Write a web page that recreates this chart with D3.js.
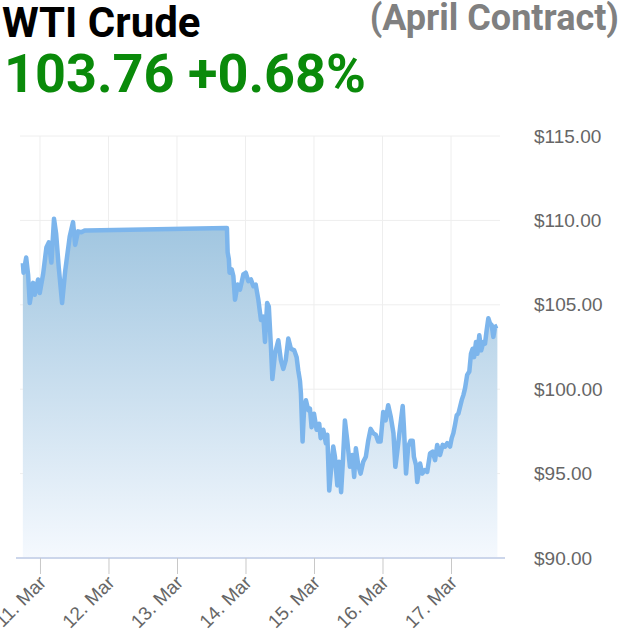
<!DOCTYPE html>
<meta charset="utf-8">
<style>
body { margin: 0; background: #fff; }
svg { font-family: Roboto, "Noto Sans", sans-serif; }
.grid line { stroke: #eeeeee; stroke-width: 1px; }
.axis--y path, .axis--y line { display: none; }
.axis--y text { fill: #666; font-size: 19px; }
.axis--x path { stroke: #ccd6eb; stroke-width: 2px; }
.axis--x line { stroke: #c8c8c8; }
.axis--x text { fill: #666; font-size: 19px; }
.line { fill: none; stroke: #7cb5ec; stroke-width: 4.5px; stroke-linejoin: round; }
</style>
<svg width="623" height="636"></svg>
<script src="https://cdn.jsdelivr.net/npm/d3@7"></script>
<script>

var title = "WTI Crude",
    contract = "(April Contract)",
    lastPrice = "103.76",
    change = "+0.68%";

var yTicks = [90, 95, 100, 105, 110, 115];
var xTicks = ["2022-03-11", "2022-03-12", "2022-03-13", "2022-03-14", "2022-03-15", "2022-03-16", "2022-03-17"];

var times = [
  "2022-03-10 18:00", "2022-03-10 18:15", "2022-03-10 19:10", "2022-03-10 19:50", "2022-03-10 20:25",
  "2022-03-10 21:35", "2022-03-10 22:10", "2022-03-10 23:20", "2022-03-10 23:55", "2022-03-11 01:05",
  "2022-03-11 02:15", "2022-03-11 03:05", "2022-03-11 04:00", "2022-03-11 04:55", "2022-03-11 05:40",
  "2022-03-11 06:35", "2022-03-11 07:45", "2022-03-11 08:50", "2022-03-11 10:25", "2022-03-11 11:35",
  "2022-03-11 12:20", "2022-03-11 13:20", "2022-03-11 14:30", "2022-03-11 15:40", "2022-03-11 16:30",
  "2022-03-13 17:30", "2022-03-13 17:45", "2022-03-13 18:10", "2022-03-13 18:25", "2022-03-13 19:10",
  "2022-03-13 19:45", "2022-03-13 20:20", "2022-03-13 21:15", "2022-03-13 22:05", "2022-03-13 23:15",
  "2022-03-14 00:05", "2022-03-14 01:00", "2022-03-14 01:55", "2022-03-14 02:45", "2022-03-14 03:35",
  "2022-03-14 04:30", "2022-03-14 05:25", "2022-03-14 06:15", "2022-03-14 06:50", "2022-03-14 07:35",
  "2022-03-14 08:10", "2022-03-14 08:55", "2022-03-14 09:25", "2022-03-14 10:20", "2022-03-14 11:30",
  "2022-03-14 12:25", "2022-03-14 13:15", "2022-03-14 14:05", "2022-03-14 15:00", "2022-03-14 15:55",
  "2022-03-14 17:05", "2022-03-14 17:55", "2022-03-14 18:30", "2022-03-14 19:05", "2022-03-14 19:25",
  "2022-03-14 20:00", "2022-03-14 20:30", "2022-03-14 21:10", "2022-03-14 22:00", "2022-03-14 22:35",
  "2022-03-14 23:10", "2022-03-15 00:00", "2022-03-15 00:55", "2022-03-15 01:50", "2022-03-15 02:20",
  "2022-03-15 03:15", "2022-03-15 04:10", "2022-03-15 04:40", "2022-03-15 05:20", "2022-03-15 06:10",
  "2022-03-15 06:45", "2022-03-15 07:20", "2022-03-15 08:10", "2022-03-15 08:45", "2022-03-15 09:30",
  "2022-03-15 10:05", "2022-03-15 10:50", "2022-03-15 11:40", "2022-03-15 12:35", "2022-03-15 13:25",
  "2022-03-15 14:05", "2022-03-15 14:40", "2022-03-15 15:30", "2022-03-15 16:20", "2022-03-15 17:15",
  "2022-03-15 18:10", "2022-03-15 19:00", "2022-03-15 19:50", "2022-03-15 20:45", "2022-03-15 21:40",
  "2022-03-15 22:30", "2022-03-15 23:20", "2022-03-16 00:15", "2022-03-16 01:05", "2022-03-16 02:00",
  "2022-03-16 02:55", "2022-03-16 03:50", "2022-03-16 04:30", "2022-03-16 05:10", "2022-03-16 06:10",
  "2022-03-16 07:05", "2022-03-16 07:30", "2022-03-16 08:15", "2022-03-16 09:00", "2022-03-16 09:50",
  "2022-03-16 10:35", "2022-03-16 11:00", "2022-03-16 11:45", "2022-03-16 12:10", "2022-03-16 13:10",
  "2022-03-16 13:55", "2022-03-16 14:50", "2022-03-16 15:40", "2022-03-16 16:40", "2022-03-16 17:35",
  "2022-03-16 18:25", "2022-03-16 19:10", "2022-03-16 20:10", "2022-03-16 21:05", "2022-03-16 21:55",
  "2022-03-16 22:40", "2022-03-16 23:40", "2022-03-17 00:15", "2022-03-17 00:50", "2022-03-17 01:25",
  "2022-03-17 02:00", "2022-03-17 02:35", "2022-03-17 03:10", "2022-03-17 03:45", "2022-03-17 04:20",
  "2022-03-17 04:55", "2022-03-17 05:40", "2022-03-17 06:25", "2022-03-17 07:00", "2022-03-17 07:35",
  "2022-03-17 08:05", "2022-03-17 08:45", "2022-03-17 09:15", "2022-03-17 09:55", "2022-03-17 10:35",
  "2022-03-17 11:20", "2022-03-17 11:55", "2022-03-17 12:30", "2022-03-17 13:05", "2022-03-17 13:40",
  "2022-03-17 14:15", "2022-03-17 14:50", "2022-03-17 15:25", "2022-03-17 16:15"
];

var prices = [
  107.47, 106.9, 107.8, 106.8, 105.1,
  106.3, 105.6, 106.5, 105.7, 106.8,
  108.4, 108.7, 107.5, 110.1, 109.2,
  107.2, 105.1, 107.0, 109.05, 109.9,
  108.55, 109.35, 109.3, 109.4, 109.4,
  109.55, 108.1, 107.7, 106.9, 107.1,
  106.7, 105.3, 106.2, 105.9, 106.8,
  106.9, 106.4, 106.5, 106.1, 106.2,
  105.3, 104.1, 104.3, 102.8, 105.1,
  104.9, 102.5, 100.6, 102.1, 102.9,
  101.7, 101.2, 101.7, 103.0, 102.4,
  102.3, 101.9, 101.1, 100.5, 99.75,
  96.9, 98.75, 99.35, 98.75, 98.85,
  97.75, 98.55, 97.6, 97.95, 97.1,
  97.6, 96.8, 97.3, 94.0, 95.6,
  96.6, 96.0, 94.3, 95.7, 93.9,
  95.6, 98.15, 96.95, 95.4, 96.1,
  94.8, 96.5, 95.5, 95.0, 95.7,
  96.0, 96.95, 97.65, 97.4, 97.3,
  96.9, 96.9, 98.65, 98.15, 99.05,
  98.35, 97.4, 95.4, 96.3, 97.75,
  99.0, 97.75, 95.0, 96.6, 96.95,
  96.95, 96.0, 95.5, 94.5, 95.6,
  95.0, 95.2, 95.1, 96.2, 96.3,
  95.8, 96.7, 96.1, 96.7, 96.6,
  96.8, 96.6, 97.1, 97.4, 97.9,
  98.45, 98.55, 98.95, 99.35, 99.65,
  100.05, 100.85, 101.05, 102.1, 102.4,
  101.9, 102.8, 102.1, 103.2, 102.3,
  102.8, 102.7, 103.5, 104.2, 103.9,
  103.8, 103.1, 103.7, 103.76
];

var parseTime = d3.timeParse("%Y-%m-%d %H:%M"),
    parseDay = d3.timeParse("%Y-%m-%d");

var data = times.map(function(t, i) { return {time: parseTime(t), price: prices[i]}; });

var svg = d3.select("svg"),
    margin = {top: 136, left: 20, right: 123, bottom: 78},
    width = +svg.attr("width") - margin.left - margin.right,
    height = +svg.attr("height") - margin.top - margin.bottom;

var x = d3.scaleTime()
    .domain([parseTime("2022-03-10 17:00"), parseTime("2022-03-17 17:10")])
    .range([0, width]);

var y = d3.scaleLinear().domain([90, 115]).range([height, 0]);

// header
svg.append("text")
    .attr("x", 2).attr("y", 37)
    .style("font-size", "42px").style("font-weight", "bold").attr("fill", "#000")
    .text(title);

svg.append("text")
    .attr("x", 619).attr("y", 30)
    .attr("text-anchor", "end")
    .style("font-size", "36px").style("font-weight", "bold").attr("fill", "#808080")
    .text(contract);

svg.append("text")
    .attr("x", 4).attr("y", 92)
    .style("font-size", "54px").style("font-weight", "bold").attr("fill", "#0a8a0a")
    .text(lastPrice + " " + change);

var defs = svg.append("defs");
var grad = defs.append("linearGradient")
    .attr("id", "fillGrad")
    .attr("gradientUnits", "userSpaceOnUse")
    .attr("x1", 0).attr("x2", 0)
    .attr("y1", y(115)).attr("y2", y(90));
grad.append("stop").attr("offset", "0%").attr("stop-color", "#8ab8d8");
grad.append("stop").attr("offset", "100%").attr("stop-color", "#f5f9fe");

var g = svg.append("g").attr("transform", "translate(" + margin.left + "," + margin.top + ")");

// grid
var grid = g.append("g").attr("class", "grid");
grid.selectAll(".hg")
  .data(yTicks)
  .enter().append("line")
    .attr("x1", 0).attr("x2", width)
    .attr("y1", function(d) { return y(d); })
    .attr("y2", function(d) { return y(d); });
grid.selectAll(".vg")
  .data(xTicks.map(parseDay))
  .enter().append("line")
    .attr("x1", function(d) { return x(d); })
    .attr("x2", function(d) { return x(d); })
    .attr("y1", 0).attr("y2", height);

var area = d3.area()
    .x(function(d) { return x(d.time); })
    .y0(height)
    .y1(function(d) { return y(d.price); });

var line = d3.line()
    .x(function(d) { return x(d.time); })
    .y(function(d) { return y(d.price); });

g.append("path")
    .datum(data)
    .attr("fill", "url(#fillGrad)")
    .attr("d", area);

g.append("path")
    .datum(data)
    .attr("class", "line")
    .attr("d", line);

// axes
var xAxis = g.append("g")
    .attr("class", "axis axis--x")
    .attr("transform", "translate(0," + height + ")")
    .call(d3.axisBottom(x)
      .tickValues(xTicks.map(parseDay))
      .tickSize(16)
      .tickSizeOuter(0)
      .tickFormat(d3.timeFormat("%-d. %b")));

xAxis.select(".domain").attr("d", "M-4,0H" + (width + 5));

xAxis.selectAll("text")
    .attr("text-anchor", "end")
    .attr("dy", "0.35em")
    .attr("transform", "translate(2,21) rotate(-45)")
    .attr("x", 0).attr("y", 0);

g.append("g")
    .attr("class", "axis axis--y")
    .attr("transform", "translate(" + (width + 31) + ",0)")
    .call(d3.axisRight(y)
      .tickValues(yTicks)
      .tickSize(0)
      .tickFormat(function(d) { return "$" + d3.format(".2f")(d); }));

</script>
